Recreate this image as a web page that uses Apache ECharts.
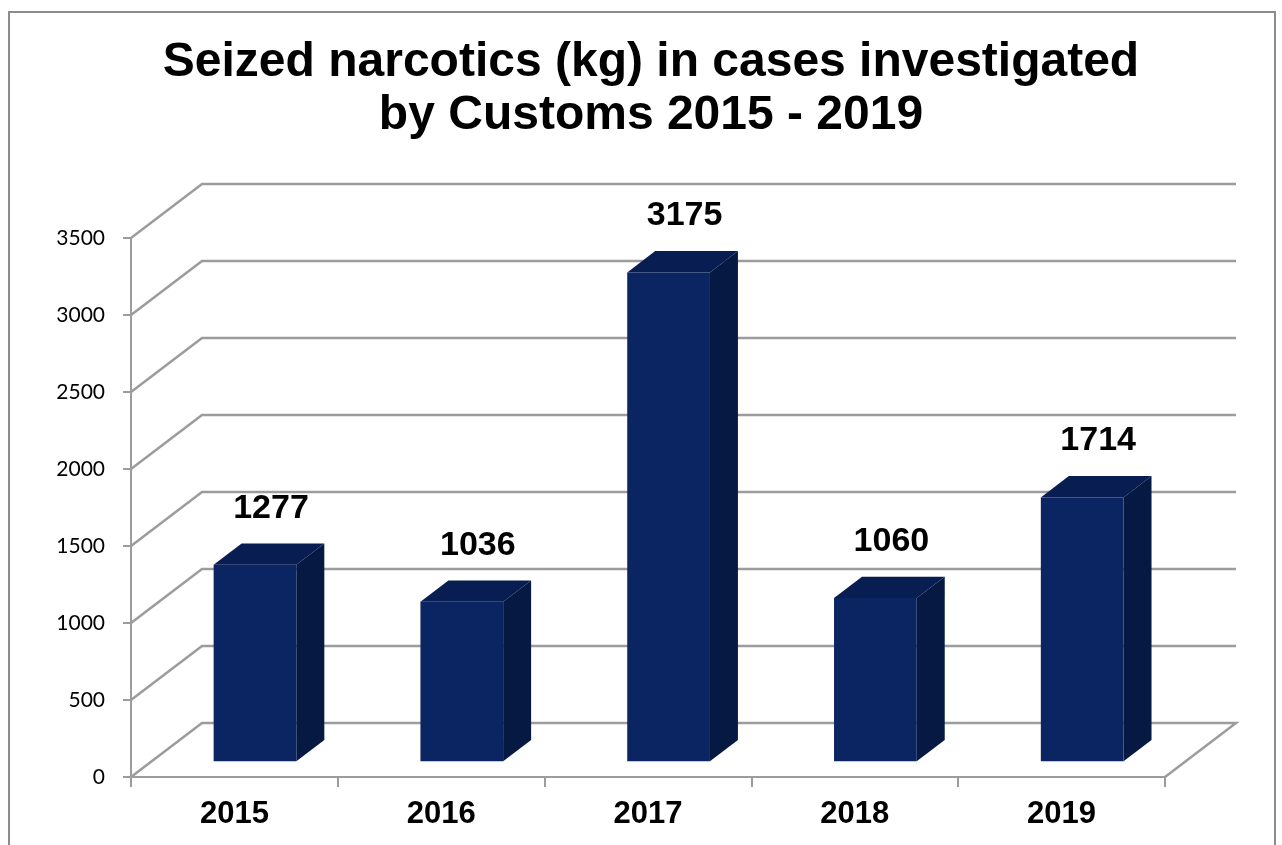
<!DOCTYPE html>
<html>
<head>
<meta charset="utf-8">
<script src="https://cdn.jsdelivr.net/npm/echarts@6/dist/echarts.min.js"></script>
<style>
html,body{margin:0;padding:0;background:#fff;}
#chart{width:1282px;height:845px;}
</style>
</head>
<body>
<div id="chart"></div>
<script>
const categories = ['2015', '2016', '2017', '2018', '2019'];
const seized = [1277, 1036, 3175, 1060, 1714];
const gridValues = [0, 500, 1000, 1500, 2000, 2500, 3000, 3500];

// depth of the 3D box (pixels)
const DX = 71, DY = -54;
const T1 = 0.29;     // bar front depth fraction
const S = 0.394;     // bar depth fraction
const BAR_W = 0.40;  // bar width fraction of band
const GRID_COLOR = '#9c9c9c';

const chart = echarts.init(document.getElementById('chart'), null, {renderer: 'canvas'});

const option = {
  animation: false,
  backgroundColor: '#ffffff',
  title: {
    text: 'Seized narcotics (kg) in cases investigated\nby Customs 2015 - 2019',
    left: 651,
    top: 36,
    textAlign: 'center',
    padding: 0,
    textStyle: {
      fontFamily: 'Liberation Sans',
      fontWeight: 'bold',
      fontSize: 48,
      lineHeight: 53,
      color: '#000'
    }
  },
  graphic: [{
    type: 'rect',
    silent: true,
    z: -10,
    shape: {x: 9, y: 12, width: 1266, height: 900},
    style: {fill: null, stroke: '#8c8c8c', lineWidth: 2}
  }],
  grid: {left: 131, right: 117, top: 238, bottom: 68},
  xAxis: {
    type: 'category',
    data: categories,
    axisLine: {show: true, lineStyle: {color: GRID_COLOR, width: 2}},
    axisTick: {show: true, length: 10, lineStyle: {color: GRID_COLOR, width: 2}},
    axisLabel: {
      margin: 22,
      fontFamily: 'Liberation Sans',
      fontWeight: 'bold',
      fontSize: 31,
      color: '#000'
    },
    splitLine: {show: false}
  },
  yAxis: {
    type: 'value',
    min: 0,
    max: 3500,
    interval: 500,
    axisLine: {show: true, lineStyle: {color: GRID_COLOR, width: 2}},
    axisTick: {show: true, length: 8, lineStyle: {color: GRID_COLOR, width: 2}},
    axisLabel: {
      margin: 26,
      fontFamily: 'Lato',
      fontSize: 21,
      color: '#000',
      formatter: function (v) { return String(v); }
    },
    splitLine: {show: false}
  },
  series: [
    {
      type: 'custom',
      name: 'walls',
      z: 1,
      silent: true,
      data: gridValues.map(v => [0, v]),
      encode: {x: 0, y: 1},
      renderItem: function (params, api) {
        const cs = params.coordSys;
        const v = api.value(1);
        const y = Math.round(api.coord([0, v])[1]);
        const x0 = cs.x, x1 = cs.x + cs.width;
        const pts = [[x0, y], [x0 + DX, y + DY], [x1 + DX, y + DY]];
        if (v === 0) pts.push([x1, y]);
        return {
          type: 'polyline',
          shape: {points: pts},
          style: {stroke: GRID_COLOR, lineWidth: 2.5, fill: null}
        };
      }
    },
    {
      type: 'custom',
      name: 'Seized narcotics (kg)',
      z: 5,
      data: seized.map((v, i) => [i, v]),
      encode: {x: 0, y: 1},
      renderItem: function (params, api) {
        const idx = api.value(0);
        const v = api.value(1);
        const base = api.coord([idx, 0]);
        const top = api.coord([idx, v]);
        const band = api.size([1, 0])[0];
        const w = band * BAR_W;
        const cx = base[0] + T1 * DX;
        const xl = cx - w / 2, xr = cx + w / 2;
        const yb = base[1] + T1 * DY;
        const yt = top[1] + T1 * DY;
        const sx = S * DX, sy = S * DY;
        return {
          type: 'group',
          children: [
            {
              type: 'polygon',
              shape: {points: [[xr, yb], [xr + sx, yb + sy], [xr + sx, yt + sy], [xr, yt]]},
              style: {fill: '#051943'}
            },
            {
              type: 'polygon',
              shape: {points: [[xl, yt], [xr, yt], [xr + sx, yt + sy], [xl + sx, yt + sy]]},
              style: {fill: '#081d52'}
            },
            {
              type: 'polygon',
              shape: {points: [[xl, yb], [xr, yb], [xr, yt], [xl, yt]]},
              style: {fill: '#0b2462'}
            },
            {
              type: 'text',
              style: {
                text: String(v),
                x: cx + 16,
                y: yt + sy - 35,
                align: 'center',
                verticalAlign: 'middle',
                fontFamily: 'Liberation Sans',
                fontWeight: 'bold',
                fontSize: 34,
                fill: '#000'
              }
            }
          ]
        };
      }
    }
  ]
};

chart.setOption(option);
</script>
</body>
</html>
